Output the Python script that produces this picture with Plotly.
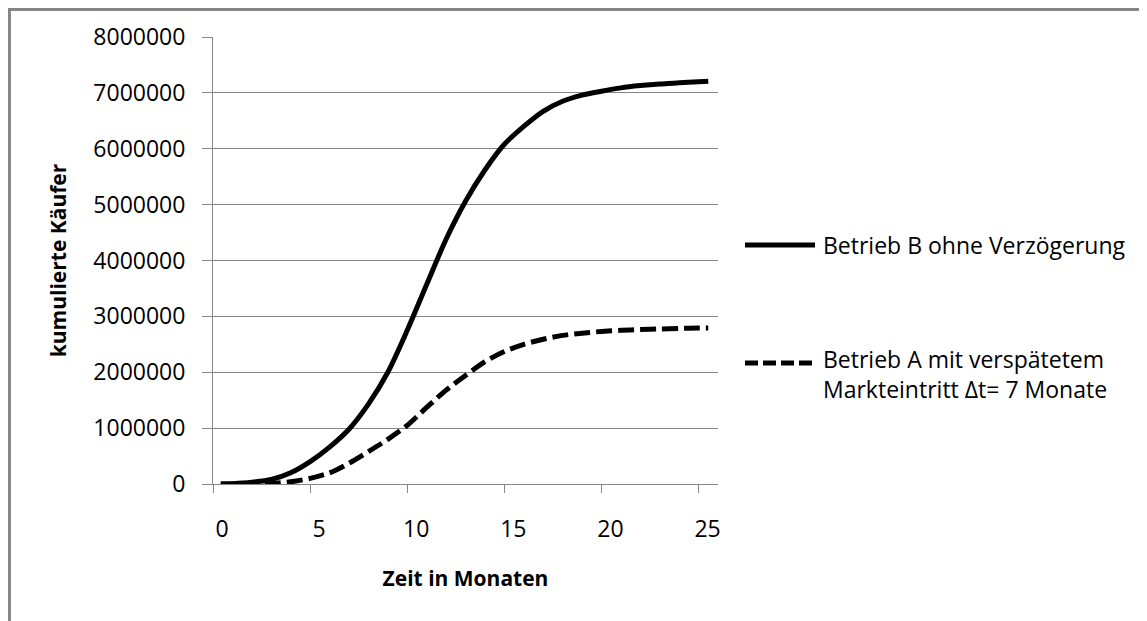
import plotly.graph_objects as go

# months since start
months = [0.4, 1, 2, 3, 4, 5, 6, 7, 8, 9, 10, 11, 12, 13, 14, 15, 16, 17,
          18, 19, 20, 21, 22, 23, 24, 25, 25.5]

# cumulative buyers, company B (no delay)
buyers_b = [0, 5000, 30000, 80000, 200000, 400000, 660000, 980000, 1430000,
            2000000, 2750000, 3570000, 4380000, 5060000, 5620000, 6080000,
            6400000, 6670000, 6850000, 6960000, 7030000, 7090000, 7130000,
            7160000, 7180000, 7200000, 7210000]

# cumulative buyers, company A (delayed market entry)
buyers_a = [0, 0, 2000, 8000, 40000, 100000, 200000, 370000, 580000, 800000,
            1050000, 1370000, 1680000, 1940000, 2190000, 2370000, 2500000,
            2590000, 2660000, 2700000, 2730000, 2750000, 2765000, 2775000,
            2785000, 2790000, 2790000]

name_b = "Betrieb B ohne Verzögerung"
name_a = "Betrieb A mit verspätetem<br>Markteintritt Δt= 7 Monate"

FONT = "Open Sans, Lato, sans-serif"
GRID = "#868686"

# page offset from the default body margin of the html page
OFF = 8
# plot area in page pixels (window 1147 x 621)
L, R, T, B = 213, 718, 37, 484
W, H = 1147, 621 - OFF


def px_x(px):
    return (px - L) / (R - L)


def px_y(py):
    return (B - py) / (B - T)


fig = go.Figure()

fig.add_trace(go.Scatter(
    x=months, y=buyers_a, mode="lines", name=name_a,
    line=dict(color="black", width=5, dash="16px,6px", shape="spline", smoothing=0.8),
    showlegend=False
))
fig.add_trace(go.Scatter(
    x=months, y=buyers_b, mode="lines", name=name_b,
    line=dict(color="black", width=5, shape="spline", smoothing=0.8),
    showlegend=False
))

# legend drawn by hand to mimic the long Excel line samples
legend_items = [
    (name_b, "solid", 245, 245),
    (name_a, "13px,5px", 363, 374),
]
for text, dash, line_y, text_y in legend_items:
    fig.add_shape(
        type="line", xref="paper", yref="paper",
        x0=px_x(745), x1=px_x(815), y0=px_y(line_y), y1=px_y(line_y),
        line=dict(color="black", width=5, dash=dash)
    )
    fig.add_annotation(
        text=text, xref="paper", yref="paper",
        x=px_x(821), y=px_y(text_y), xanchor="left", yanchor="middle",
        align="left", showarrow=False,
        font=dict(family=FONT, size=23, color="black")
    )

# chart area border: only the left and top edges are inside the picture
fig.add_shape(
    type="line", xref="paper", yref="paper",
    x0=px_x(9.5), x1=px_x(9.5), y0=px_y(640), y1=px_y(8),
    line=dict(color=GRID, width=3), layer="below"
)
fig.add_shape(
    type="line", xref="paper", yref="paper",
    x0=px_x(8), x1=px_x(1180), y0=px_y(9.5), y1=px_y(9.5),
    line=dict(color=GRID, width=3), layer="below"
)

fig.update_layout(
    width=W, height=H,
    margin=dict(l=L - OFF, r=W + OFF - R, t=T - OFF, b=H + OFF - B, pad=0),
    paper_bgcolor="white",
    plot_bgcolor="white",
    font=dict(family=FONT, size=23, color="black"),
    xaxis=dict(
        range=[0, 26],
        tickvals=[0, 5, 10, 15, 20, 25],
        ticks="outside", ticklen=8, tickcolor=GRID, tickwidth=1,
        ticklabelshift=9, ticklabelstandoff=16,
        showgrid=False, zeroline=False,
        showline=True, linecolor=GRID, linewidth=1,
        title=dict(text="<b>Zeit in Monaten</b>", font=dict(size=21), standoff=28)
    ),
    yaxis=dict(
        range=[0, 8000000],
        tickvals=[0, 1000000, 2000000, 3000000, 4000000, 5000000, 6000000, 7000000, 8000000],
        tickformat="d",
        ticks="outside", ticklen=10, tickcolor=GRID, tickwidth=1,
        ticklabelstandoff=12,
        showgrid=True, gridcolor=GRID, gridwidth=1,
        zeroline=False,
        showline=True, linecolor=GRID, linewidth=1,
        title=dict(text="<b>kumulierte Käufer</b>", font=dict(size=21), standoff=20)
    ),
)

fig.write_html("out.html")
